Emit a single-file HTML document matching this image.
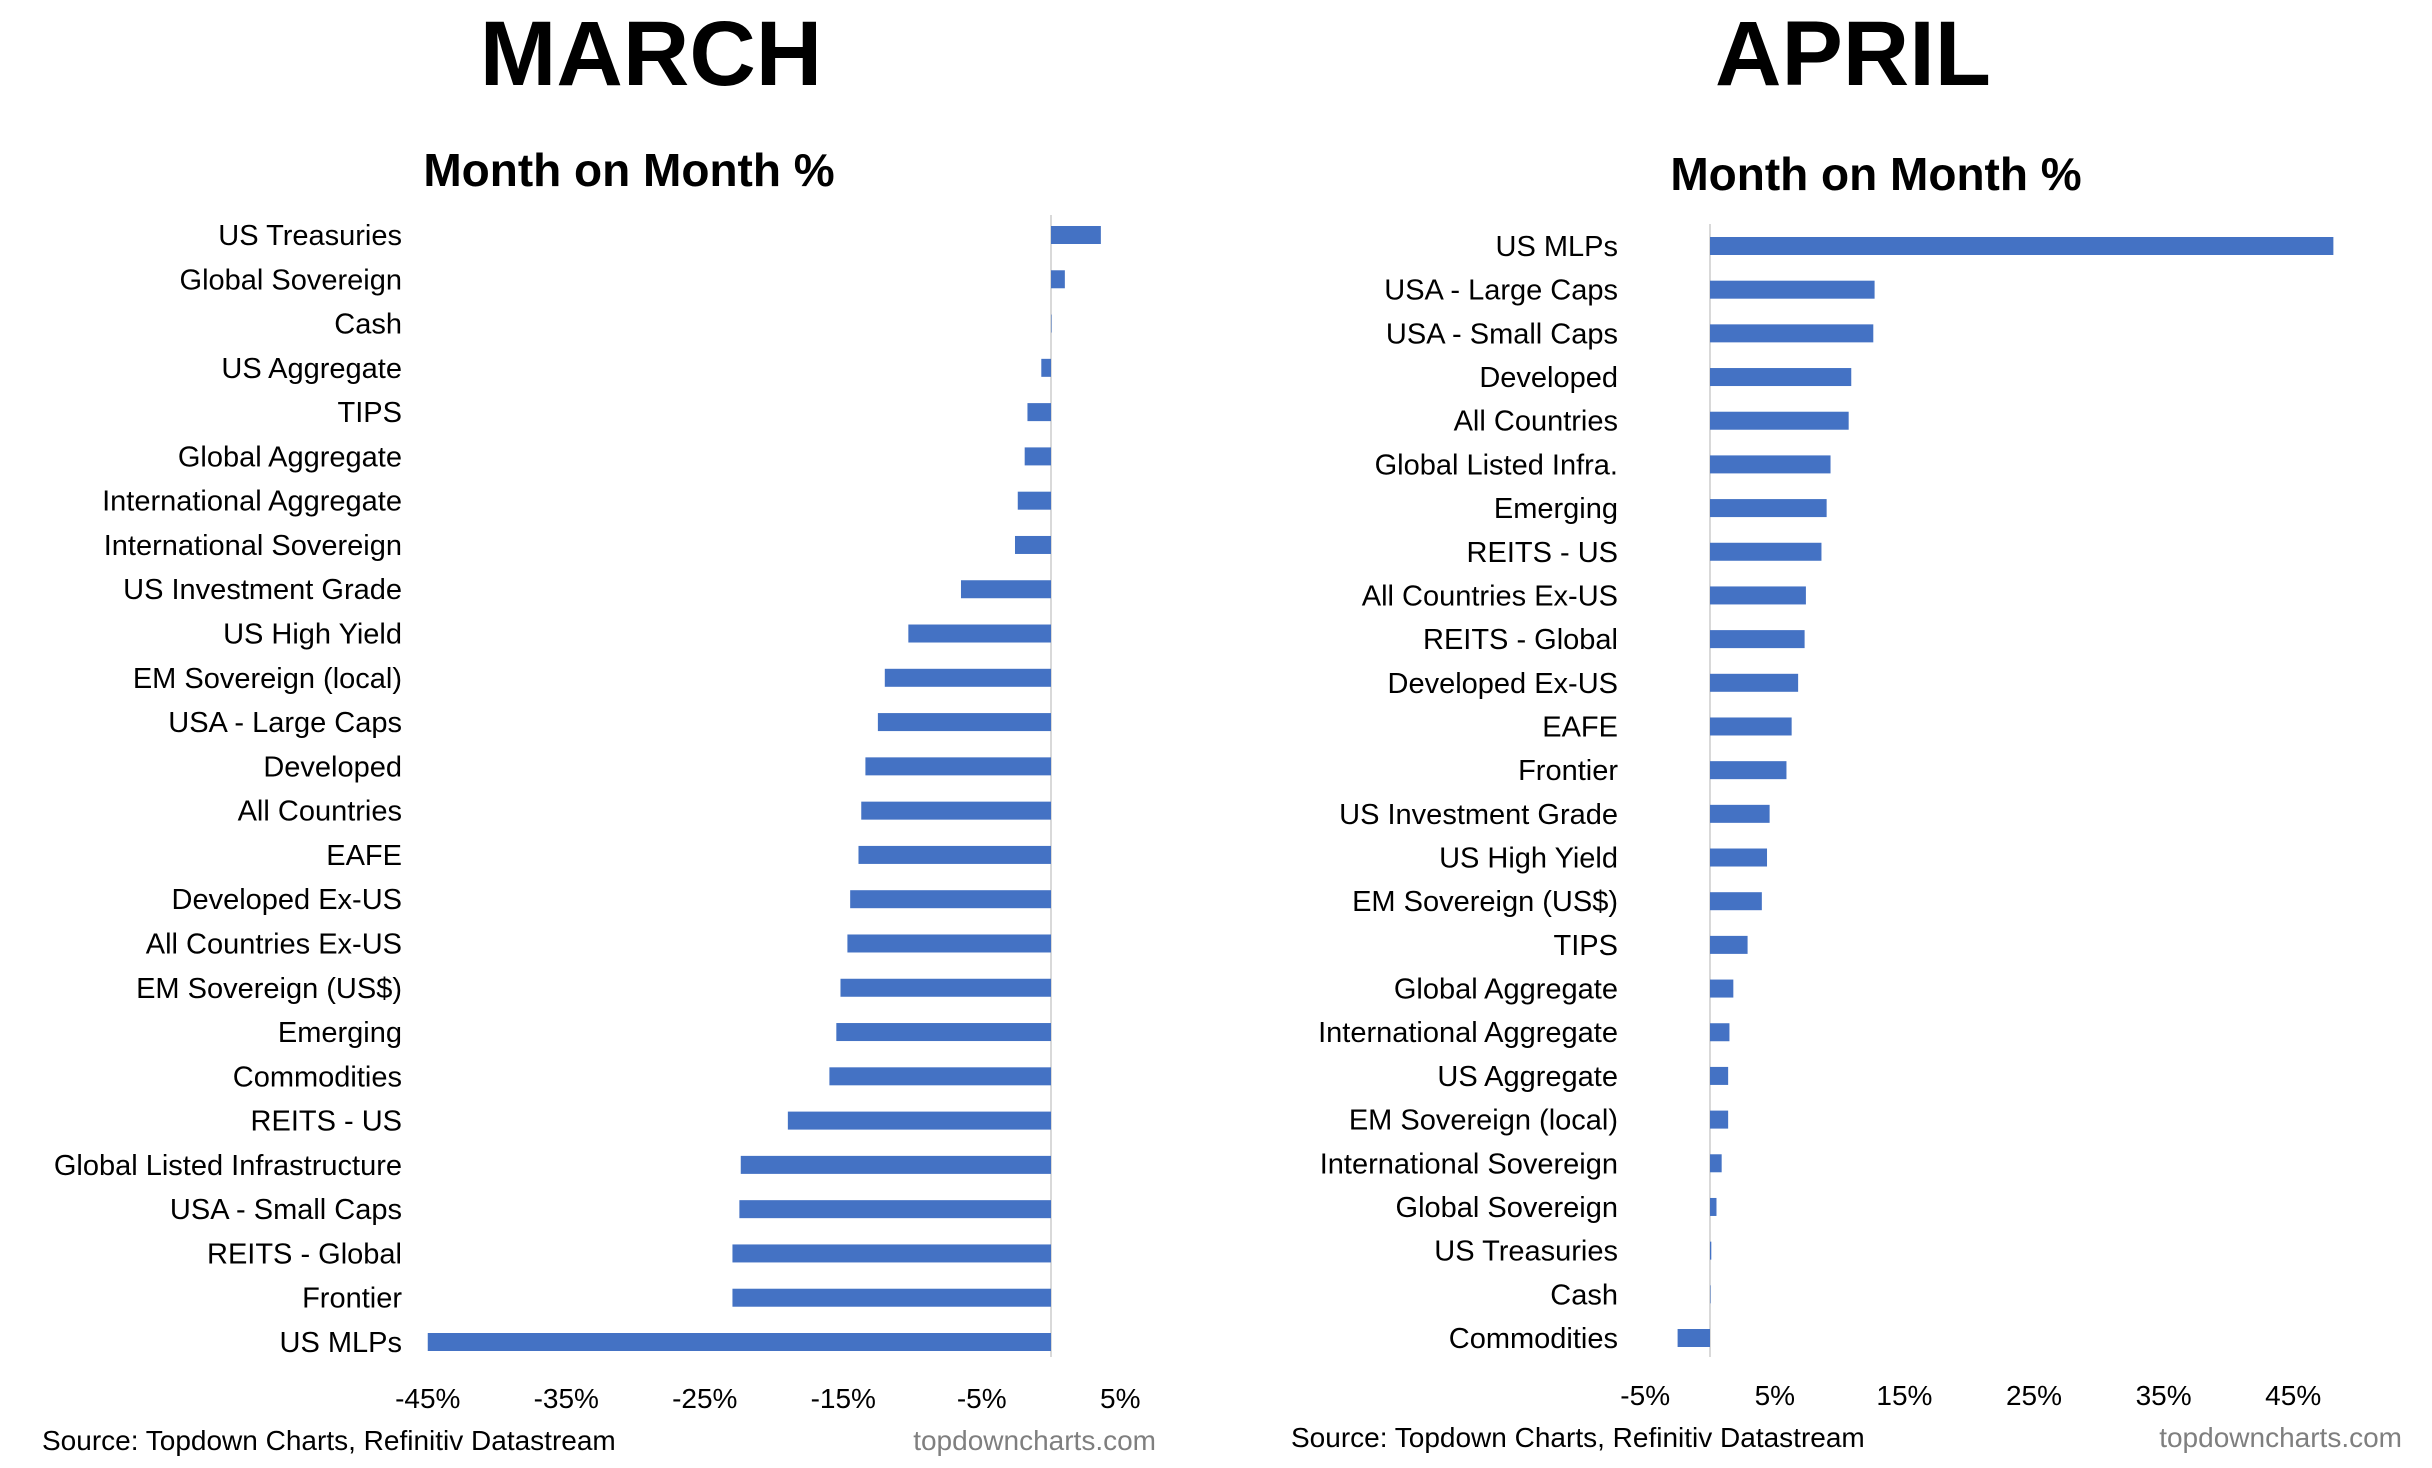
<!DOCTYPE html>
<html><head><meta charset="utf-8">
<style>
html,body{margin:0;padding:0;background:#fff;}
svg{display:block;font-family:"Liberation Sans",Arial,sans-serif;}
</style></head>
<body>
<svg id="s" width="2432" height="1468" viewBox="0 0 2432 1468" xmlns="http://www.w3.org/2000/svg">
<text x="651" y="85" font-size="92" font-weight="bold" text-anchor="middle">MARCH</text>
<text x="1853" y="85" font-size="92" font-weight="bold" text-anchor="middle">APRIL</text>
<text x="629" y="186" font-size="46" font-weight="bold" text-anchor="middle">Month on Month %</text>
<text x="1876" y="190" font-size="46" font-weight="bold" text-anchor="middle">Month on Month %</text>
<text x="42" y="1450" font-size="28">Source: Topdown Charts, Refinitiv Datastream</text>
<text x="1156" y="1450" font-size="28" fill="#7f7f7f" text-anchor="end">topdowncharts.com</text>
<text x="1291" y="1447" font-size="28">Source: Topdown Charts, Refinitiv Datastream</text>
<text x="2402" y="1447" font-size="28" fill="#7f7f7f" text-anchor="end">topdowncharts.com</text>
</svg>
<script>
const marchCats=["US Treasuries","Global Sovereign","Cash","US Aggregate","TIPS","Global Aggregate","International Aggregate","International Sovereign","US Investment Grade","US High Yield","EM Sovereign (local)","USA - Large Caps","Developed","All Countries","EAFE","Developed Ex-US","All Countries Ex-US","EM Sovereign (US$)","Emerging","Commodities","REITS - US","Global Listed Infrastructure","USA - Small Caps","REITS - Global","Frontier","US MLPs"];
const marchVals=[3.6,1.0,0,-0.7,-1.7,-1.9,-2.4,-2.6,-6.5,-10.3,-12.0,-12.5,-13.4,-13.7,-13.9,-14.5,-14.7,-15.2,-15.5,-16.0,-19.0,-22.4,-22.5,-23.0,-23.0,-45.0];
const marchTicks=[-45,-35,-25,-15,-5,5];
const aprilCats=["US MLPs","USA - Large Caps","USA - Small Caps","Developed","All Countries","Global Listed Infra.","Emerging","REITS - US","All Countries Ex-US","REITS - Global","Developed Ex-US","EAFE","Frontier","US Investment Grade","US High Yield","EM Sovereign (US$)","TIPS","Global Aggregate","International Aggregate","US Aggregate","EM Sovereign (local)","International Sovereign","Global Sovereign","US Treasuries","Cash","Commodities"];
const aprilVals=[48.1,12.7,12.6,10.9,10.7,9.3,9.0,8.6,7.4,7.3,6.8,6.3,5.9,4.6,4.4,4.0,2.9,1.8,1.5,1.4,1.4,0.9,0.5,0.1,0,-2.5];
const aprilTicks=[-5,5,15,25,35,45];
const svg=document.getElementById('s');
const NS="http://www.w3.org/2000/svg";
function mk(t,a){const e=document.createElementNS(NS,t);for(const k in a)e.setAttribute(k,a[k]);svg.appendChild(e);return e;}
function chart(p,cats,vals,ticks,zero,ppu,y0,y1,labelX,axTop,axBot,tickY){
  const x=v=>zero+v*ppu;
  const step=(y1-y0)/(cats.length-1);
  const y=i=>y0+i*step;
  const ax=mk('line',{x1:zero,x2:zero,y1:axTop,y2:axBot,stroke:'#d9d9d9','stroke-width':2});
  
  
  cats.forEach((c,i)=>{
    const v=vals[i];
    const r=mk('rect',{x:Math.min(x(0),x(v)),y:y(i)-9,width:Math.max(Math.abs(x(v)-x(0)),0.5),height:18,fill:'#4472c4'});
    
    
    const t=mk('text',{x:labelX,y:y(i)+10,'font-size':29,'text-anchor':'end'});
    t.textContent=c;
    
    
  });
  ticks.forEach(v=>{
    const t=mk('text',{x:x(v),y:tickY,'font-size':28,'text-anchor':'middle'});
    t.textContent=v+'%';
    
    
  });
}
chart('march',marchCats,marchVals,marchTicks,1051,13.85,235,1342,402,215,1357,1408);
chart('april',aprilCats,aprilVals,aprilTicks,1710,12.96,246,1338,1618,224,1357,1405);
</script>
</body></html>
